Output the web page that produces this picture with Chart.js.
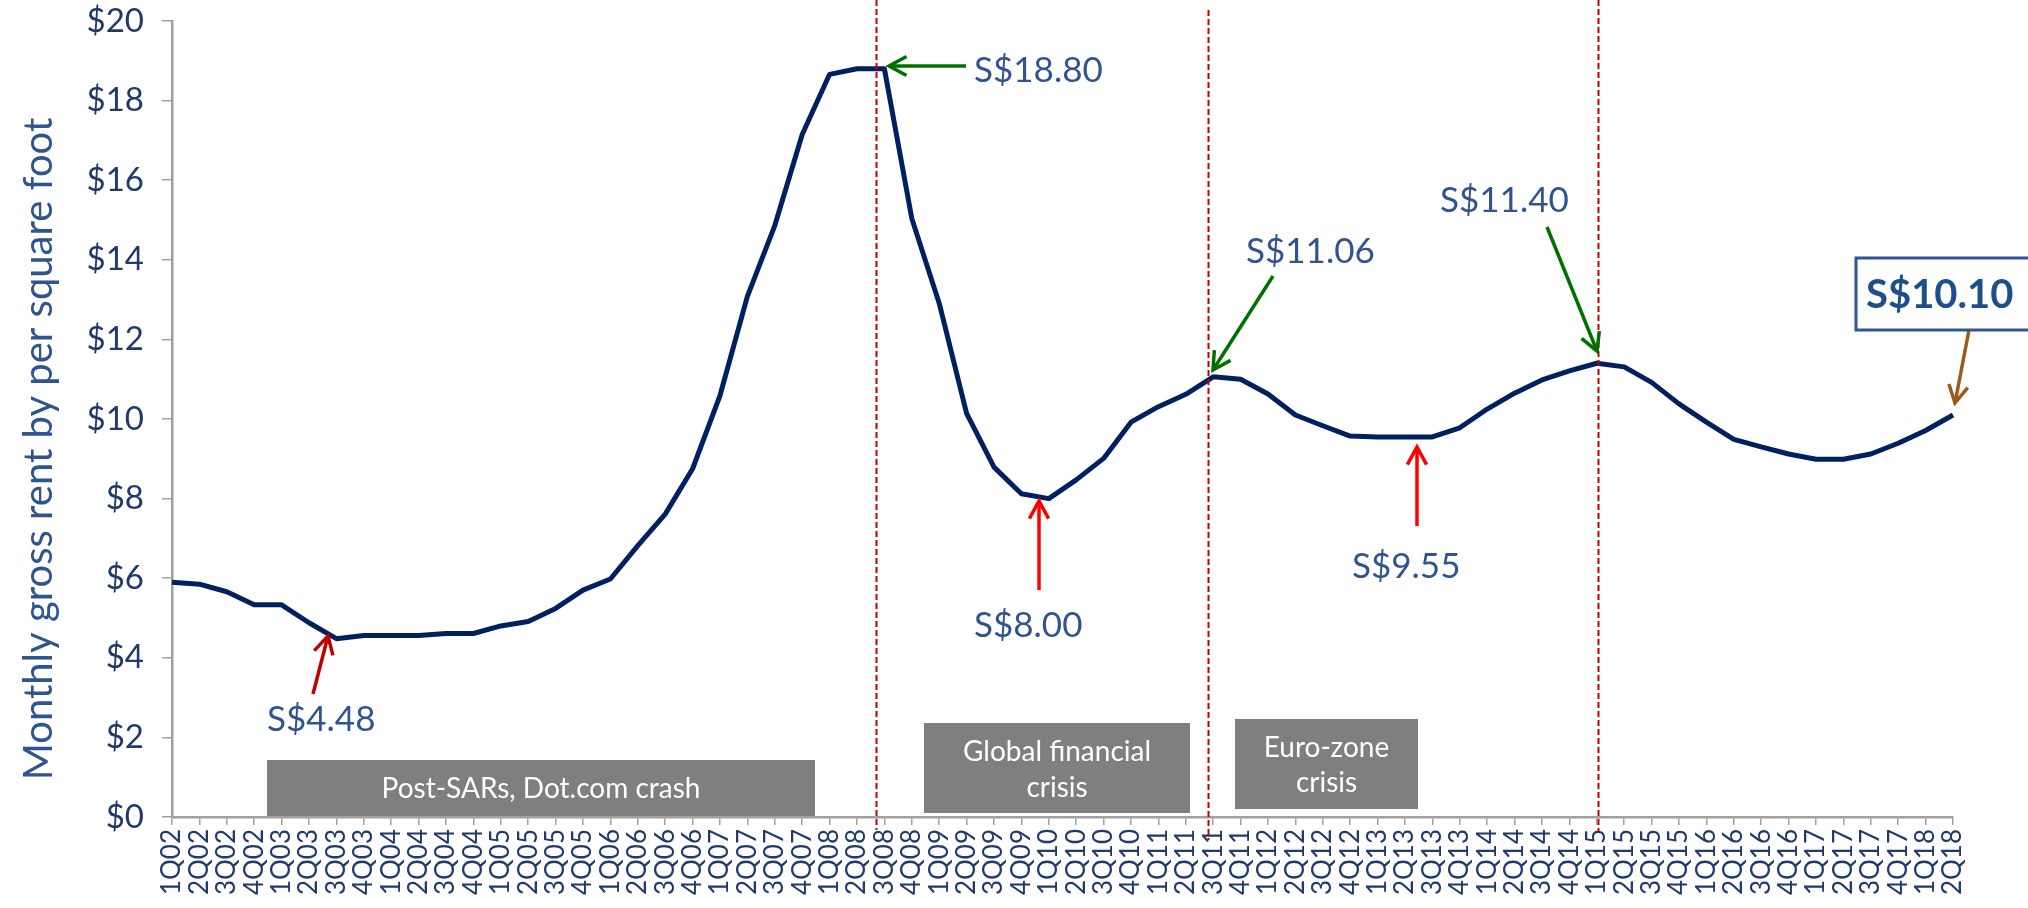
<!DOCTYPE html>
<html>
<head>
<meta charset="utf-8">
<script src="https://cdn.jsdelivr.net/npm/chart.js@4.4.1/dist/chart.umd.min.js"></script>
<style>
html,body{margin:0;padding:0;background:#fff;}
#wrap{width:2028px;height:908px;}
</style>
</head>
<body>
<div id="wrap"><canvas id="c" width="2028" height="908"></canvas></div>
<script>
const quarters = ["1Q02","2Q02","3Q02","4Q02","1Q03","2Q03","3Q03","4Q03","1Q04","2Q04","3Q04","4Q04",
"1Q05","2Q05","3Q05","4Q05","1Q06","2Q06","3Q06","4Q06","1Q07","2Q07","3Q07","4Q07",
"1Q08","2Q08","3Q08","4Q08","1Q09","2Q09","3Q09","4Q09","1Q10","2Q10","3Q10","4Q10",
"1Q11","2Q11","3Q11","4Q11","1Q12","2Q12","3Q12","4Q12","1Q13","2Q13","3Q13","4Q13",
"1Q14","2Q14","3Q14","4Q14","1Q15","2Q15","3Q15","4Q15","1Q16","2Q16","3Q16","4Q16",
"1Q17","2Q17","3Q17","4Q17","1Q18","2Q18"];

const rent = [5.90,5.85,5.66,5.33,5.33,4.88,4.48,4.56,4.56,4.56,4.61,4.61,
4.80,4.91,5.24,5.70,5.98,6.82,7.61,8.75,10.59,13.08,14.86,17.15,
18.66,18.80,18.80,15.04,12.91,10.14,8.79,8.12,8.00,8.47,9.01,9.92,
10.31,10.62,11.06,11.00,10.63,10.10,9.83,9.57,9.55,9.55,9.55,9.78,
10.25,10.65,10.98,11.21,11.40,11.31,10.92,10.38,9.92,9.49,9.30,9.12,
8.99,8.99,9.12,9.39,9.71,10.10];

const yTicks = [0,2,4,6,8,10,12,14,16,18,20];
const yTitle = "Monthly gross rent by per square foot";
const callouts = ["S$4.48","S$18.80","S$8.00","S$11.06","S$9.55","S$11.40","S$10.10"];
const periods = ["Post-SARs, Dot.com crash", ["Global financial","crisis"], ["Euro-zone","crisis"]];
const crisisMarks = [25.7, 37.82, 52.04];

const FONT = "Lato, 'Noto Sans', sans-serif";
const TICK_COLOR = "#1F3A6B";
const NOTE_COLOR = "#2F5490";

function arrow(ctx, x1, y1, x2, y2, color, w) {
  const ang = Math.atan2(y2 - y1, x2 - x1);
  const L = 20, a = 0.5;
  ctx.save();
  ctx.strokeStyle = color; ctx.lineWidth = w; ctx.lineCap = "butt";
  ctx.beginPath(); ctx.moveTo(x1, y1); ctx.lineTo(x2, y2); ctx.stroke();
  ctx.beginPath();
  ctx.moveTo(x2 - L * Math.cos(ang - a), y2 - L * Math.sin(ang - a));
  ctx.lineTo(x2, y2);
  ctx.lineTo(x2 - L * Math.cos(ang + a), y2 - L * Math.sin(ang + a));
  ctx.stroke();
  ctx.restore();
}

function grayBox(ctx, x1, y1, x2, y2, lines, lineYs) {
  ctx.save();
  ctx.fillStyle = "#7F7F7F";
  ctx.fillRect(x1, y1, x2 - x1, y2 - y1);
  ctx.fillStyle = "#FFFFFF";
  ctx.font = "28px " + FONT;
  ctx.textAlign = "center"; ctx.textBaseline = "middle";
  lines.forEach((t, k) => ctx.fillText(t, (x1 + x2) / 2, lineYs[k]));
  ctx.restore();
}

const notesPlugin = {
  id: "notes",
  afterDatasetsDraw(chart) {
    const ctx = chart.ctx;
    const xs = chart.scales.x;
    ctx.save();
    ctx.strokeStyle = "#C00000"; ctx.lineWidth = 2; ctx.setLineDash([6, 3]);
    const tops = [0, 10, 0], bots = [830, 840, 832];
    crisisMarks.forEach((m, k) => {
      const x = Math.round(xs.getPixelForValue(m)) + 0.5;
      ctx.beginPath(); ctx.moveTo(x, tops[k]); ctx.lineTo(x, bots[k]); ctx.stroke();
    });
    ctx.restore();

    grayBox(ctx, 267, 760, 815, 816, [periods[0]], [789]);
    grayBox(ctx, 924, 723, 1190, 813, periods[1], [752, 788]);
    grayBox(ctx, 1235, 719, 1418, 809, periods[2], [748, 783]);

    arrow(ctx, 313, 694, 328, 636, "#C00000", 3.5);
    arrow(ctx, 966, 66, 889, 66, "#007000", 3.5);
    arrow(ctx, 1039, 590, 1039, 501, "#FF0000", 3.5);
    arrow(ctx, 1273, 276, 1213, 370, "#007000", 3.5);
    arrow(ctx, 1417, 526, 1417, 447, "#FF0000", 3.5);
    arrow(ctx, 1547, 227, 1597, 351, "#007000", 3.5);
    arrow(ctx, 1969, 330, 1955, 403, "#9C5B1A", 3.5);

    ctx.save();
    ctx.fillStyle = NOTE_COLOR;
    ctx.font = "35px " + FONT;
    ctx.textAlign = "left"; ctx.textBaseline = "alphabetic";
    ctx.fillText(callouts[0], 267, 731);
    ctx.fillText(callouts[1], 974, 82);
    ctx.fillText(callouts[2], 974, 637);
    ctx.fillText(callouts[3], 1246, 263);
    ctx.fillText(callouts[4], 1352, 578);
    ctx.fillText(callouts[5], 1440, 212);
    ctx.strokeStyle = "#2F5597"; ctx.lineWidth = 3;
    ctx.strokeRect(1856, 258, 200, 72);
    ctx.fillStyle = "#1F4E8C";
    ctx.font = "bold 40px " + FONT;
    ctx.fillText(callouts[6], 1866, 308);
    ctx.restore();

    // y-axis title
    ctx.save();
    ctx.translate(39, 449);
    ctx.rotate(-Math.PI / 2);
    ctx.fillStyle = NOTE_COLOR;
    ctx.font = "40px " + FONT;
    ctx.textAlign = "center"; ctx.textBaseline = "middle";
    ctx.fillText(yTitle, 0, 0);
    ctx.restore();
  }
};

new Chart(document.getElementById("c"), {
  type: "line",
  data: {
    labels: quarters,
    datasets: [{
      data: rent,
      borderColor: "#002060",
      borderWidth: 5,
      pointRadius: 0,
      tension: 0,
      fill: false,
      borderJoinStyle: "round"
    }]
  },
  options: {
    responsive: false,
    devicePixelRatio: 1,
    animation: false,
    layout: { padding: { top: 21, right: 75, left: 0, bottom: 0 } },
    plugins: { legend: { display: false }, tooltip: { enabled: false } },
    scales: {
      x: {
        offset: false,
        grid: { drawOnChartArea: false, drawTicks: true, tickLength: 8, color: "#A0A0A0", lineWidth: 1.5 },
        border: { color: "#A0A0A0", width: 2.5 },
        ticks: {
          autoSkip: false, minRotation: 90, maxRotation: 90, padding: 4,
          color: TICK_COLOR, font: { family: FONT, size: 26 }
        },
        afterFit(s) { s.height = 91; }
      },
      y: {
        min: 0, max: 20,
        afterBuildTicks(s) { s.ticks = yTicks.map(v => ({ value: v })); },
        grid: { drawOnChartArea: false, drawTicks: true, tickLength: 10, color: "#A0A0A0", lineWidth: 1.5 },
        border: { color: "#A0A0A0", width: 2.5 },
        ticks: {
          padding: 18, color: TICK_COLOR, font: { family: FONT, size: 33 },
          callback: v => "$" + v
        },
        afterFit(s) { s.width = 172; s.paddingTop = 10; s.paddingBottom = 10; }
      }
    }
  },
  plugins: [notesPlugin]
});
</script>
</body>
</html>
